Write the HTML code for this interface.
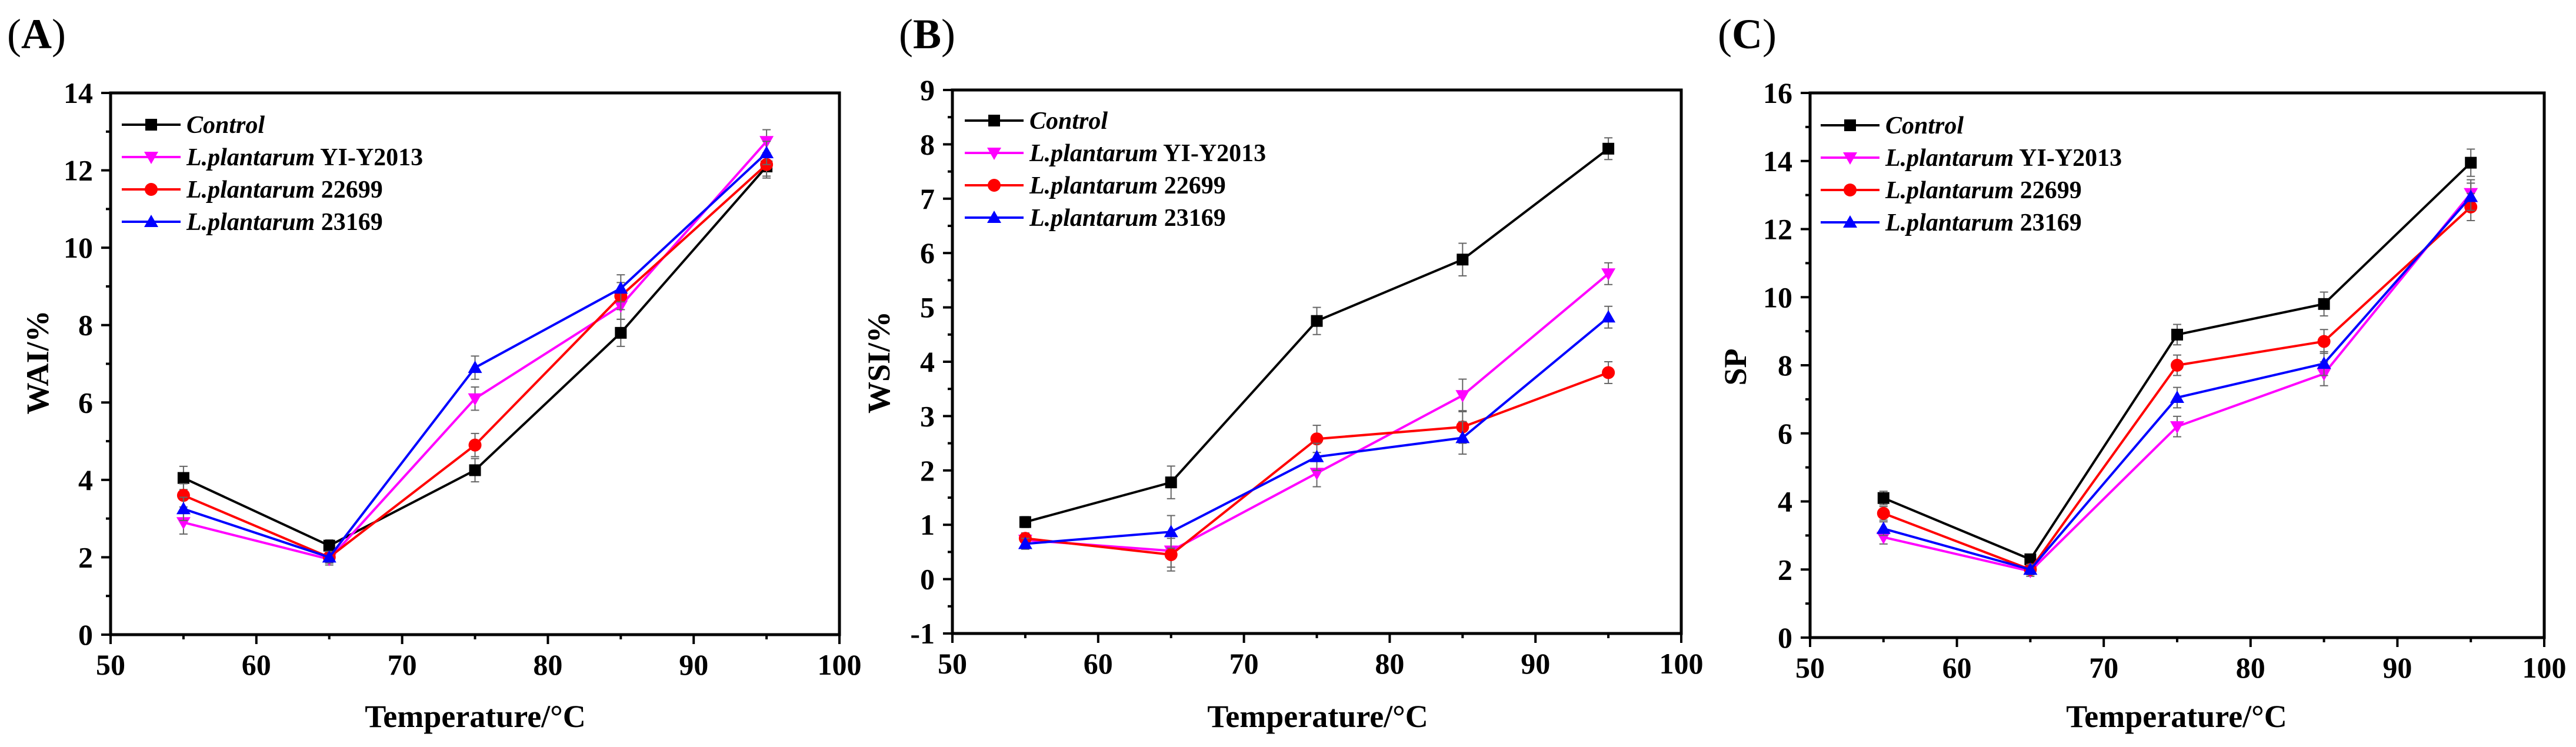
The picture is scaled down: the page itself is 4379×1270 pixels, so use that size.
<!DOCTYPE html>
<html><head><meta charset="utf-8"><style>
html,body{margin:0;padding:0;background:#fff;}
svg{display:block;font-family:"Liberation Serif",serif;}
</style></head><body>
<svg id="fig" width="4379" height="1270" viewBox="0 0 4379 1270" xmlns="http://www.w3.org/2000/svg"></svg>
<script>
const temps = [55, 65, 75, 85, 95];
const seriesNames = ["Control", "YI-Y2013", "22699", "23169"];
const waiControl = [4.05, 2.3, 4.25, 7.8, 12.1];
const waiYI = [2.9, 1.95, 6.1, 8.5, 12.75];
const wai22699 = [3.6, 2.0, 4.9, 8.75, 12.15];
const wai23169 = [3.25, 2.0, 6.9, 8.95, 12.45];
const wsiControl = [1.05, 1.78, 4.75, 5.88, 7.92];
const wsiYI = [0.72, 0.52, 1.95, 3.38, 5.62];
const wsi22699 = [0.75, 0.45, 2.58, 2.8, 3.8];
const wsi23169 = [0.65, 0.87, 2.25, 2.6, 4.82];
const spControl = [4.1, 2.3, 8.9, 9.8, 13.95];
const spYI = [2.95, 1.95, 6.2, 7.75, 13.05];
const sp22699 = [3.65, 2.0, 8.0, 8.7, 12.65];
const sp23169 = [3.2, 2.0, 7.05, 8.05, 12.95];
const errA = [0.3, 0.15, 0.3, 0.35, 0.3];
const errB = [0.1, 0.3, 0.25, 0.3, 0.2];
const errC = [0.2, 0.15, 0.3, 0.35, 0.4];
const xTicks = [50, 60, 70, 80, 90, 100];
const yTicksA = [0, 2, 4, 6, 8, 10, 12, 14];
const yTicksB = [-1, 0, 1, 2, 3, 4, 5, 6, 7, 8, 9];
const yTicksC = [0, 2, 4, 6, 8, 10, 12, 14, 16];

const NS = "http://www.w3.org/2000/svg";
const svg = document.getElementById("fig");
function mk(tag, attrs, parent, txt){
  const e = document.createElementNS(NS, tag);
  for (const k in attrs) e.setAttribute(k, attrs[k]);
  if (txt !== undefined) e.textContent = txt;
  (parent || svg).appendChild(e);
  return e;
}
const colors = ["#000000", "#ff00ff", "#ff0000", "#0000ff"];
const shapes = ["square", "down", "circle", "up"];

function marker(g, shape, cx, cy, col){
  const s = 10;
  let m;
  if (shape === "square") m = mk("rect", {x: cx - s, y: cy - s, width: 2*s, height: 2*s, fill: col}, g);
  else if (shape === "circle") m = mk("circle", {cx: cx, cy: cy, r: s + 1, fill: col}, g);
  else if (shape === "down") m = mk("polygon", {points: `${cx-12},${cy-9} ${cx+12},${cy-9} ${cx},${cy+12}`, fill: col}, g);
  else m = mk("polygon", {points: `${cx-12},${cy+9} ${cx+12},${cy+9} ${cx},${cy-12}`, fill: col}, g);
  return m;
}

function panel(cfg){
  const g = mk("g", {});
  
  
  const xs = v => cfg.L + (v - 50) / 50 * (cfg.R - cfg.L);
  const ys = v => cfg.B - (v - cfg.ymin) / (cfg.ymax - cfg.ymin) * (cfg.B - cfg.T);
  // frame
  const fr = mk("rect", {x: cfg.L, y: cfg.T, width: cfg.R - cfg.L, height: cfg.B - cfg.T, fill: "none", stroke: "#000", "stroke-width": 5}, g);
  
  
  // x ticks
  xTicks.forEach((t, i) => {
    const x = xs(t);
    mk("line", {x1: x, y1: cfg.B, x2: x, y2: cfg.B + 16, stroke: "#000", "stroke-width": 4}, g);
    if (i < xTicks.length - 1) mk("line", {x1: xs(t + 5), y1: cfg.B, x2: xs(t + 5), y2: cfg.B + 8, stroke: "#000", "stroke-width": 4}, g);
    const tl = mk("text", {x: x, y: cfg.B + 68, "font-size": 50, "font-weight": "bold", "text-anchor": "middle"}, g, String(t));
    
    
  });
  cfg.yt.forEach((t, i) => {
    const y = ys(t);
    mk("line", {x1: cfg.L - 16, y1: y, x2: cfg.L, y2: y, stroke: "#000", "stroke-width": 4}, g);
    if (i < cfg.yt.length - 1) { const ym = ys((t + cfg.yt[i+1]) / 2); mk("line", {x1: cfg.L - 8, y1: ym, x2: cfg.L, y2: ym, stroke: "#000", "stroke-width": 4}, g); }
    const tl = mk("text", {x: cfg.L - 30, y: y + 17, "font-size": 50, "font-weight": "bold", "text-anchor": "end"}, g, String(t));
    
    
  });
  // titles
  const xt = mk("text", {x: cfg.xtx, y: 1236, "font-size": 54, "font-weight": "bold", "text-anchor": "middle"}, g, "Temperature/°C");
  
  
  const yt = mk("text", {x: 0, y: 0, "font-size": 54, "font-weight": "bold", "text-anchor": "middle", transform: `translate(${cfg.ytx},${cfg.yty}) rotate(-90)`}, g, cfg.ytitle);
  
  
  const pl = mk("text", {x: cfg.plx, y: 82, "font-size": 72}, g);
  
  
  mk("tspan", {}, pl, "(");
  mk("tspan", {"font-weight": "bold"}, pl, cfg.letter);
  mk("tspan", {}, pl, ")");
  // series
  cfg.data.forEach((vals, si) => {
    const sg = mk("g", {}, g);
    
    
    vals.forEach((v, i) => {
      const x = xs(temps[i]), e = cfg.err[i];
      mk("line", {x1: x, y1: ys(v - e), x2: x, y2: ys(v + e), stroke: "#666", "stroke-width": 2}, sg);
      mk("line", {x1: x - 7, y1: ys(v - e), x2: x + 7, y2: ys(v - e), stroke: "#666", "stroke-width": 2}, sg);
      mk("line", {x1: x - 7, y1: ys(v + e), x2: x + 7, y2: ys(v + e), stroke: "#666", "stroke-width": 2}, sg);
    });
    const pts = vals.map((v, i) => xs(temps[i]) + "," + ys(v)).join(" ");
    const ln = mk("polyline", {points: pts, fill: "none", stroke: colors[si], "stroke-width": 4}, sg);
    
    
    vals.forEach((v, i) => {
      const m = marker(sg, shapes[si], xs(temps[i]), ys(v), colors[si]);
      
      
    });
  });
  // legend
  const lg = mk("g", {}, g);
  
  
  seriesNames.forEach((n, si) => {
    const y = cfg.legY + si * 55;
    const eg = mk("g", {}, lg);
    
    
    mk("line", {x1: cfg.legX, y1: y, x2: cfg.legX + 100, y2: y, stroke: colors[si], "stroke-width": 4}, eg);
    marker(eg, shapes[si], cfg.legX + 50, y, colors[si]);
    const t = mk("text", {x: cfg.legX + 110, y: y + 14, "font-size": 42, "font-weight": "bold"}, eg);
    if (si === 0) { mk("tspan", {"font-style": "italic"}, t, "Control"); }
    else { mk("tspan", {"font-style": "italic"}, t, "L.plantarum"); mk("tspan", {}, t, " " + n); }
  });
}

panel({name: "panel-a-wai", letter: "A", L: 188, R: 1427, T: 158, B: 1079, ymin: 0, ymax: 14, yt: yTicksA,
  data: [waiControl, waiYI, wai22699, wai23169], err: errA, ytitle: "WAI/%", ytx: 82, yty: 616, xtx: 808, plx: 12, legX: 207, legY: 212});
panel({name: "panel-b-wsi", letter: "B", L: 1619, R: 2858, T: 153, B: 1077, ymin: -1, ymax: 9, yt: yTicksB,
  data: [wsiControl, wsiYI, wsi22699, wsi23169], err: errB, ytitle: "WSI/%", ytx: 1512, yty: 616, xtx: 2240, plx: 1528, legX: 1640, legY: 205});
panel({name: "panel-c-sp", letter: "C", L: 3077, R: 4325, T: 158, B: 1084, ymin: 0, ymax: 16, yt: yTicksC,
  data: [spControl, spYI, sp22699, sp23169], err: errC, ytitle: "SP", ytx: 2968, yty: 624, xtx: 3700, plx: 2920, legX: 3095, legY: 213});
</script>
</body></html>
